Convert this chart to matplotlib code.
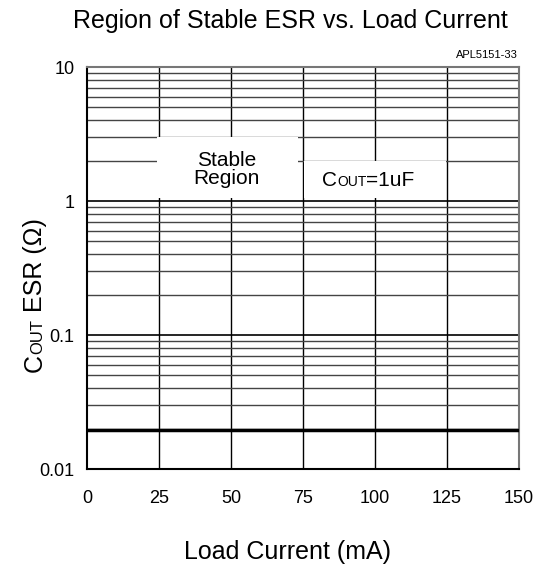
import numpy as np
import matplotlib.pyplot as plt
from matplotlib.patches import Rectangle

plt.rcParams['font.family'] = ['Liberation Sans', 'DejaVu Sans']

# data
x_ticks = [0, 25, 50, 75, 100, 125, 150]
y_ticks = [0.01, 0.1, 1, 10]
y_tick_labels = ['0.01', '0.1', '1', '10']
boundary_x = [0, 150]
boundary_esr = [0.0195, 0.0195]

fig = plt.figure(figsize=(5.42, 5.69), dpi=100)
ax = fig.add_axes([0.1605, 0.1757, 0.797, 0.7065])

ax.set_yscale('log')
ax.set_xlim(0, 150)
ax.set_ylim(0.01, 10)
ax.set_xticks(x_ticks)
ax.set_yticks(y_ticks)
ax.set_yticklabels(y_tick_labels)
ax.minorticks_off()
ax.tick_params(length=0, labelsize=13)
ax.tick_params(axis='y', pad=9)
ax.tick_params(axis='x', pad=15)

# grid
for xv in x_ticks[1:-1]:
    ax.axvline(xv, color='black', lw=1, zorder=1)
for dec in [0.01, 0.1, 1]:
    for m in range(2, 10):
        ax.axhline(dec * m, color='#444444', lw=1, zorder=1)
    ax.axhline(dec, color='black', lw=1.2, zorder=1)

for s in ['left', 'bottom']:
    ax.spines[s].set_linewidth(1.5)
for s in ['top', 'right']:
    ax.spines[s].set_color('#777777')
    ax.spines[s].set_linewidth(1.5)

ax.plot(boundary_x, boundary_esr, color='black', lw=2.5, zorder=3)

# white label boxes
ax.add_patch(Rectangle((24.3, 1.05), 49.0, 3.0 - 1.05, facecolor='white', edgecolor='none', zorder=2))
ax.add_patch(Rectangle((75.5, 1.05), 49.0, 1.98 - 1.05, facecolor='white', edgecolor='none', zorder=2))
ax.text(48.5, 1.72, 'Stable\nRegion', ha='center', va='center', fontsize=15, linespacing=0.95, zorder=4)

fig.canvas.draw()
r = fig.canvas.get_renderer()


def seq_text(x0, y0, parts, rotation=0):
    # place text pieces one after another (pixel coords)
    pos = 0.0
    for txt, size in parts:
        if rotation == 0:
            t = fig.text((x0 + pos) / 542, 1 - y0 / 569, txt, fontsize=size, ha='left', va='baseline')
            w = t.get_window_extent(r).width
        else:
            t = fig.text(x0 / 542, 1 - (y0 - pos) / 569, txt, fontsize=size, rotation=90,
                         ha='left', va='baseline', rotation_mode='anchor')
            w = t.get_window_extent(r).height
        pos += w


seq_text(322, 186, [('C', 15), ('OUT', 10), ('=1uF', 15)])
seq_text(42, 372, [('C', 18), ('OUT', 12), (' ESR (Ω)', 18)], rotation=90)

fig.text(290 / 542, 1 - 21 / 569, 'Region of Stable ESR vs. Load Current', ha='center', va='center', fontsize=18)
fig.text(518 / 542, 1 - 55 / 569, 'APL5151-33', ha='right', va='center', fontsize=8)
fig.text(287 / 542, 1 - 552 / 569, 'Load Current (mA)', ha='center', va='center', fontsize=18)

fig.savefig('out.png', dpi=100)
